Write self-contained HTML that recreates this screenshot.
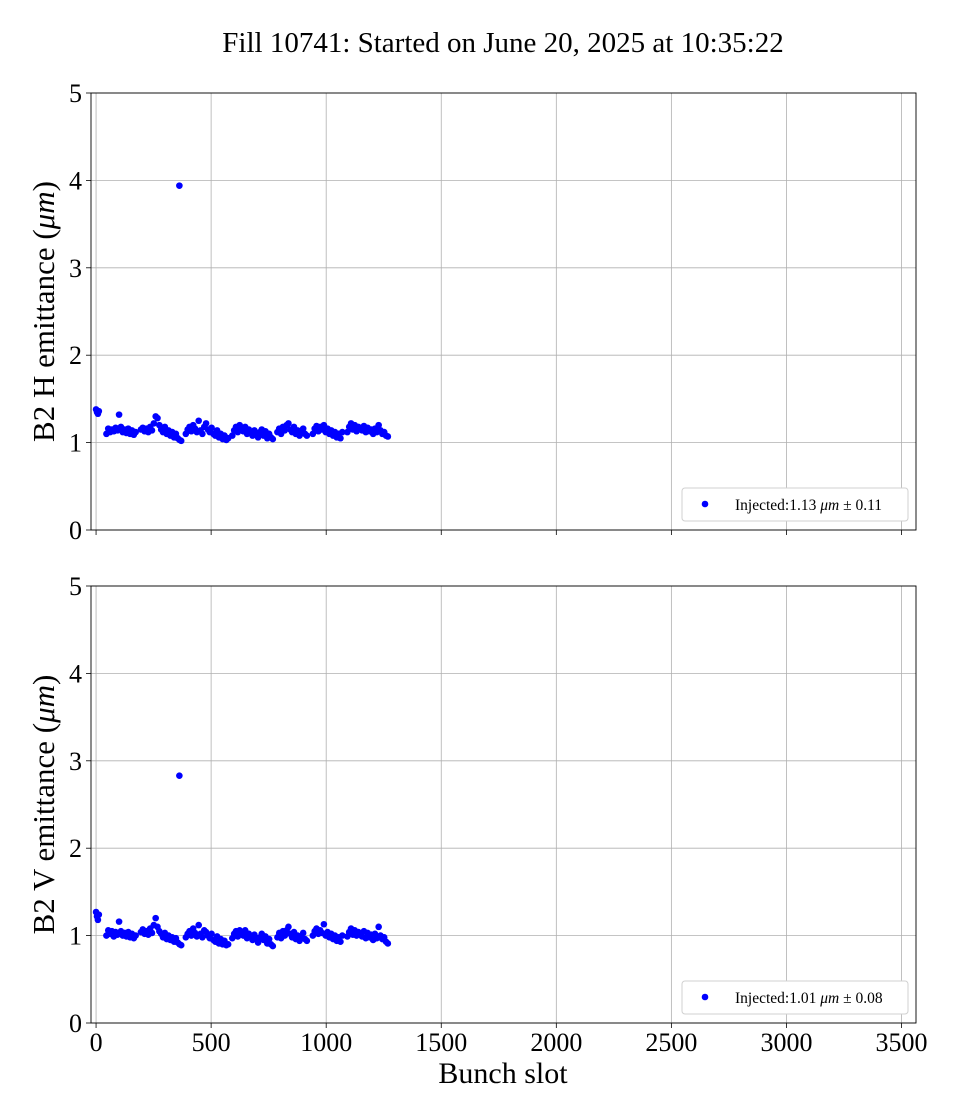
<!DOCTYPE html>
<html><head><meta charset="utf-8"><style>
html,body{margin:0;padding:0;background:#fff;}
svg{display:block;font-family:"Liberation Serif",serif;}
</style></head><body>
<svg id="chart" width="960" height="1120" viewBox="0 0 960 1120" xmlns="http://www.w3.org/2000/svg">
<text x="503" y="52" font-size="29" text-anchor="middle">Fill 10741: Started on June 20, 2025 at 10:35:22</text>
<g id="p1"></g>
<g id="p2"></g>
<text x="503" y="1083" font-size="30" text-anchor="middle">Bunch slot</text>
</svg>
<script>
const slots=[0,4,8,12,
45,53,61,69,77,85,93,100,108,116,124,132,140,148,156,164,172,
195,203,211,219,227,235,243,251,259,267,275,283,291,299,307,315,323,331,339,347,355,363,370,
390,398,406,414,422,430,438,446,454,462,470,478,486,494,502,510,518,526,534,542,550,558,566,574,
592,600,608,616,624,632,640,648,656,664,672,680,688,696,704,712,720,728,736,744,752,760,768,
788,796,804,812,820,828,836,844,852,860,868,876,884,892,900,908,916,
942,950,958,966,974,982,990,998,1006,1014,1022,1030,1038,1046,1054,1062,1070,
1092,1100,1108,1116,1124,1132,1140,1148,1156,1164,1172,1180,1188,1196,1204,1212,1220,1228,1236,1244,1252,1260,1268,
362];
const hValues=[1.38,1.35,1.33,1.36,
1.10,1.16,1.12,1.15,1.13,1.17,1.14,1.32,1.18,1.12,1.15,1.11,1.16,1.10,1.14,1.09,1.12,
1.15,1.17,1.13,1.16,1.12,1.18,1.14,1.22,1.30,1.28,1.20,1.15,1.12,1.18,1.10,1.14,1.08,1.12,1.06,1.10,1.05,1.03,1.02,
1.10,1.15,1.18,1.13,1.20,1.16,1.12,1.25,1.14,1.10,1.18,1.22,1.15,1.12,1.17,1.10,1.08,1.14,1.06,1.10,1.04,1.08,1.03,1.05,
1.08,1.14,1.18,1.12,1.20,1.16,1.13,1.18,1.10,1.15,1.12,1.08,1.14,1.10,1.06,1.12,1.15,1.08,1.13,1.05,1.10,1.06,1.04,
1.12,1.16,1.10,1.18,1.14,1.20,1.22,1.15,1.12,1.18,1.10,1.14,1.08,1.12,1.16,1.10,1.08,
1.10,1.16,1.19,1.13,1.18,1.15,1.20,1.12,1.16,1.10,1.14,1.08,1.12,1.06,1.10,1.05,1.12,
1.12,1.18,1.22,1.15,1.20,1.13,1.18,1.16,1.14,1.19,1.12,1.17,1.13,1.15,1.10,1.16,1.12,1.20,1.14,1.10,1.12,1.08,1.07,
3.94];
const vValues=[1.27,1.22,1.18,1.24,
1.00,1.06,1.02,1.05,0.99,1.04,1.01,1.16,1.05,1.00,1.03,0.99,1.04,0.98,1.02,0.97,1.00,
1.04,1.07,1.02,1.05,1.01,1.08,1.03,1.12,1.20,1.10,1.05,1.02,0.98,1.03,0.96,1.00,0.95,0.98,0.93,0.97,0.92,0.90,0.89,
0.98,1.02,1.05,1.00,1.08,1.03,0.99,1.12,1.02,0.98,1.06,1.04,1.00,0.97,1.02,0.95,0.93,0.99,0.91,0.96,0.90,0.94,0.89,0.90,
0.97,1.02,1.05,0.99,1.06,1.03,1.00,1.06,0.97,1.02,0.99,0.95,1.01,0.97,0.92,0.98,1.02,0.95,0.99,0.91,0.96,0.90,0.88,
0.98,1.03,0.97,1.05,1.00,1.06,1.10,1.02,0.98,1.04,0.96,1.00,0.94,0.98,1.03,0.96,0.94,
1.00,1.05,1.08,1.02,1.06,1.03,1.13,1.00,1.04,0.98,1.02,0.96,1.00,0.94,0.98,0.93,1.00,
0.99,1.04,1.08,1.01,1.06,1.00,1.04,1.02,0.99,1.05,0.97,1.03,0.98,1.01,0.95,1.02,0.97,1.10,1.00,0.96,0.98,0.93,0.91,
2.83];
const xTicks=[0,500,1000,1500,2000,2500,3000,3500];
const yTicks=[0,1,2,3,4,5];
const panels=[
 {id:'p1',top:93,bottom:530,vals:hValues,label:'H',legend:'Injected:1.13 ',err:' ± 0.11',showX:false},
 {id:'p2',top:586,bottom:1023,vals:vValues,label:'V',legend:'Injected:1.01 ',err:' ± 0.08',showX:true}
];
const L=91,R=916,XMIN=-22,XMAX=3563;
const NS='http://www.w3.org/2000/svg';
function xs(v){return L+(v-XMIN)/(XMAX-XMIN)*(R-L);}
function mk(tag,attrs,parent){const e=document.createElementNS(NS,tag);for(const k in attrs)e.setAttribute(k,attrs[k]);parent.appendChild(e);return e;}
panels.forEach(p=>{
 const g=document.getElementById(p.id);
 const ys=v=>p.bottom-(v-0)/5*(p.bottom-p.top);
 xTicks.forEach(t=>{
  const l=mk('line',{x1:xs(t),x2:xs(t),y1:p.top,y2:p.bottom,stroke:'#b0b0b0','stroke-width':0.8},g);
  
  
  mk('line',{x1:xs(t),x2:xs(t),y1:p.bottom,y2:p.bottom+5,stroke:'#000','stroke-width':0.8},g);
  if(p.showX){const tx=mk('text',{x:xs(t),y:p.bottom+28,'font-size':26,'text-anchor':'middle'},g);tx.textContent=t;
   
   }
 });
 yTicks.forEach(t=>{
  const l=mk('line',{x1:L,x2:R,y1:ys(t),y2:ys(t),stroke:'#b0b0b0','stroke-width':0.8},g);
  
  
  mk('line',{x1:L-5,x2:L,y1:ys(t),y2:ys(t),stroke:'#000','stroke-width':0.8},g);
  const tx=mk('text',{x:L-9,y:ys(t)+9,'font-size':26,'text-anchor':'end'},g);tx.textContent=t;
  
  
 });
 const fr=mk('rect',{x:L,y:p.top,width:R-L,height:p.bottom-p.top,fill:'none',stroke:'#000','stroke-width':0.9},g);
 
 
 slots.forEach((s,i)=>{
  const c=mk('circle',{cx:xs(s),cy:ys(p.vals[i]),r:3.3,fill:'#0000ff'},g);
  
  
 });
 const yl=mk('text',{x:0,y:0,'font-size':31,'text-anchor':'middle',transform:`translate(54,${(p.top+p.bottom)/2}) rotate(-90)`},g);
 yl.innerHTML='B2 '+p.label+' emittance (<tspan font-style="italic">μm</tspan>)';
 
 
 const lg=mk('g',{},g);
 
 
 mk('rect',{x:682,y:p.bottom-42,width:226,height:33,rx:3,fill:'#fff',stroke:'#d0d0d0','stroke-width':1},lg);
 mk('circle',{cx:705,cy:p.bottom-26,r:3.3,fill:'#0000ff'},lg);
 const lt=mk('text',{x:735,y:p.bottom-20,'font-size':15.5},lg);
 lt.innerHTML=p.legend+'<tspan font-style="italic">μm</tspan>'+p.err;
});
</script>
</body></html>
